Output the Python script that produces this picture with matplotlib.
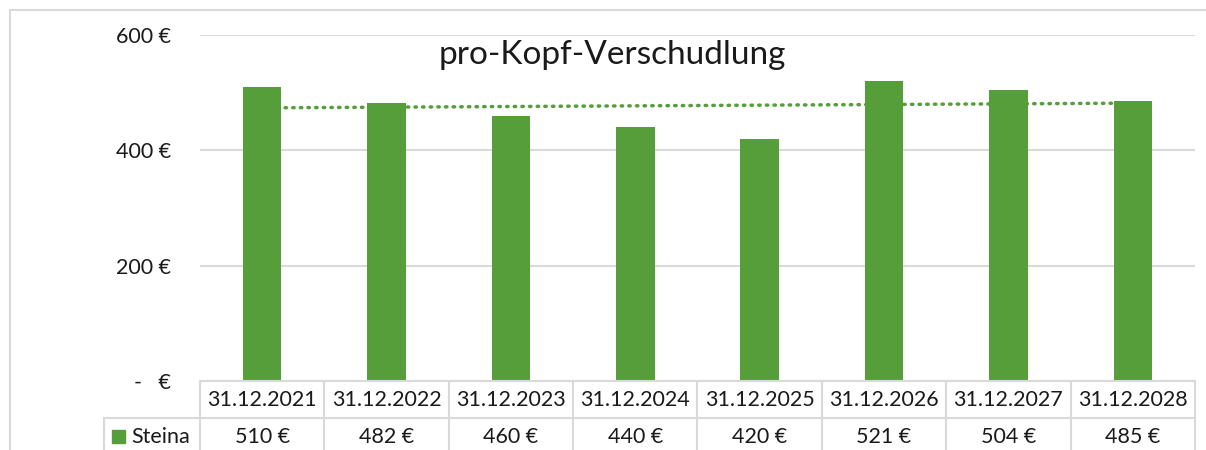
import matplotlib
matplotlib.use("Agg")
import matplotlib.pyplot as plt
import numpy as np
from matplotlib.lines import Line2D
from matplotlib.patches import Rectangle

categories = ["31.12.2021", "31.12.2022", "31.12.2023", "31.12.2024",
              "31.12.2025", "31.12.2026", "31.12.2027", "31.12.2028"]
values = [510, 482, 460, 440, 420, 521, 504, 485]
series_name = "Steina"
title = "pro-Kopf-Verschudlung"
yticks = [0, 200, 400, 600]
ytick_labels = ["-   €", "200 €", "400 €", "600 €"]

BAR = "#559E3A"
GRID = "#D9D9D9"
TXT = "#1a1a1a"
FONT = "Lato"
FS = 15.5

W, H = 1206, 450
fig = plt.figure(figsize=(W / 100, H / 100), dpi=100)

def fx(px):
    return px / W

def fy(py):
    return 1 - py / H

# outer chart border (left + top visible)
fig.add_artist(Line2D([fx(10), fx(10)], [0, fy(10)], color=GRID, lw=1.5))
fig.add_artist(Line2D([fx(10), 1], [fy(10), fy(10)], color=GRID, lw=1.5))

x0, x1 = 200, 1195
y_top, y_bot = 35, 381
ax = fig.add_axes([fx(x0), fy(y_bot), (x1 - x0) / W, (y_bot - y_top) / H])

n = len(categories)
x = np.arange(n)
ax.set_xlim(-0.5, n - 0.5)
ax.set_ylim(0, 600)

for s in ax.spines.values():
    s.set_visible(False)
ax.set_yticks(yticks)
ax.set_yticklabels(ytick_labels, fontsize=FS, family=FONT, color=TXT)
ax.tick_params(axis="y", length=0, pad=21)
ax.set_xticks([])
ax.grid(axis="y", color=GRID, lw=1.5)
ax.set_axisbelow(True)

# trendline (linear fit of the series)
coef = np.polyfit(x, values, 1)
ax.plot(x, np.polyval(coef, x), color=BAR, lw=2.5, ls=(0, (0.4, 1.8)),
        dash_capstyle="round", zorder=2)

ax.bar(x, values, width=0.31, color=BAR, zorder=3)

fig.text(fx(612), fy(55), title, ha="center", va="center",
         fontsize=24, family=FONT, color=TXT)

# data table below axis
cell_w = (x1 - x0) / n
row1_top, row1_bot = 381, 418
for k in range(n + 1):
    xx = x0 + k * cell_w
    fig.add_artist(Line2D([fx(xx), fx(xx)], [fy(row1_top), 0], color=GRID, lw=1.5))
fig.add_artist(Line2D([fx(x0), fx(x1)], [fy(row1_top), fy(row1_top)], color=GRID, lw=1.5))
fig.add_artist(Line2D([fx(104), fx(x1)], [fy(row1_bot), fy(row1_bot)], color=GRID, lw=1.5))
fig.add_artist(Line2D([fx(104), fx(104)], [fy(row1_bot), 0], color=GRID, lw=1.5))

for k, (c, v) in enumerate(zip(categories, values)):
    cx = x0 + (k + 0.5) * cell_w
    fig.text(fx(cx), fy(400), c, ha="center", va="center",
             fontsize=FS, family=FONT, color=TXT)
    fig.text(fx(cx), fy(437), f"{v} €", ha="center", va="center",
             fontsize=FS, family=FONT, color=TXT)

fig.add_artist(Rectangle((fx(112), fy(443)), 13 / W, 13 / H, color=BAR))
fig.text(fx(131), fy(437), series_name, ha="left", va="center",
         fontsize=FS, family=FONT, color=TXT)

fig.savefig("out.png", dpi=100)
